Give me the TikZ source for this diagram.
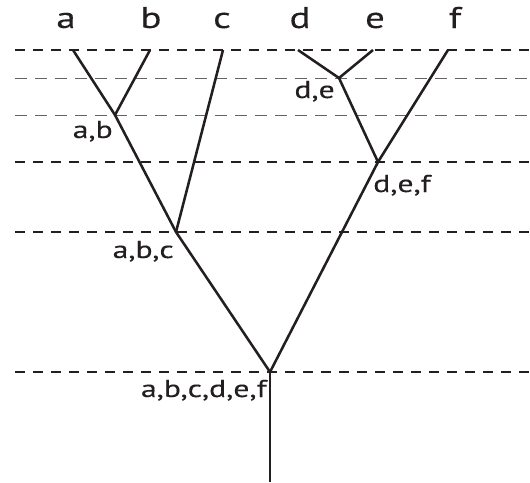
\documentclass[tikz,border=0pt]{standalone}
\usepackage{fontspec}
\setmainfont{PT Sans}
\newfontfamily\tagfont[FakeStretch=1.3,FakeBold=0.2]{PT Sans}
\definecolor{ink}{HTML}{231F20}
\begin{document}
\begin{tikzpicture}[x=0.75pt,y=-0.75pt,
      branch/.style={ink,line width=1.9pt},
      major/.style={ink,line width=1.7pt,dash pattern=on 7.5pt off 6pt},
      minor/.style={ink!70,line width=0.6pt,dash pattern=on 9pt off 6pt},
      leaf/.style={ink,font=\tagfont\fontsize{22.5}{22.5}\selectfont,inner sep=0pt,anchor=base},
      tag/.style={ink,font=\tagfont\fontsize{18.3}{18.3}\selectfont,inner sep=0pt}]
      \useasboundingbox (0,0) rectangle (530,482);
      \foreach \y in {50,162,232,372} {
        \draw[major] (15,\y) -- (530,\y);
      }
      \foreach \y in {78,115} {
        \draw[minor] (15,\y) -- (530,\y);
      }
      \foreach \x/\name/\lx in {73/a/66,150/b/151,223/c/222,298/d/300,373/e/375,448/f/455} {
        \coordinate (\name) at (\x,50);
        \node[leaf] (top\name) at (\lx,28) {\name};
      }
      \coordinate (ab) at (115,115);
      \coordinate (de) at (339,78);
      \coordinate (def) at (378,162);
      \coordinate (abc) at (176,232);
      \coordinate (root) at (270,372);
      \coordinate (stem) at (270,482);
      \draw[branch] (a) -- (ab) -- (abc) -- (root) -- (def) -- (de) -- (d);
      \draw[branch] (b) -- (ab);
      \draw[branch] (c) -- (abc);
      \draw[branch] (e) -- (de);
      \draw[branch] (f) -- (def);
      \draw[branch] (root) -- (stem);
      \node[tag,anchor=base east] (labab) at ([shift={(-2,23)}]ab) {a,b};
      \node[tag,anchor=base east] (labde) at ([shift={(-4,20)}]de) {d,e};
      \node[tag,anchor=base west] (labdef) at ([shift={(-5,30)}]def) {d,e,f};
      \node[tag,anchor=base east] (lababc) at ([shift={(-2,26)}]abc) {a,b,c};
      \node[tag,anchor=base east] (labroot) at ([shift={(-3,25)}]root) {a,b,c,d,e,f};
    \end{tikzpicture}
\end{document}
